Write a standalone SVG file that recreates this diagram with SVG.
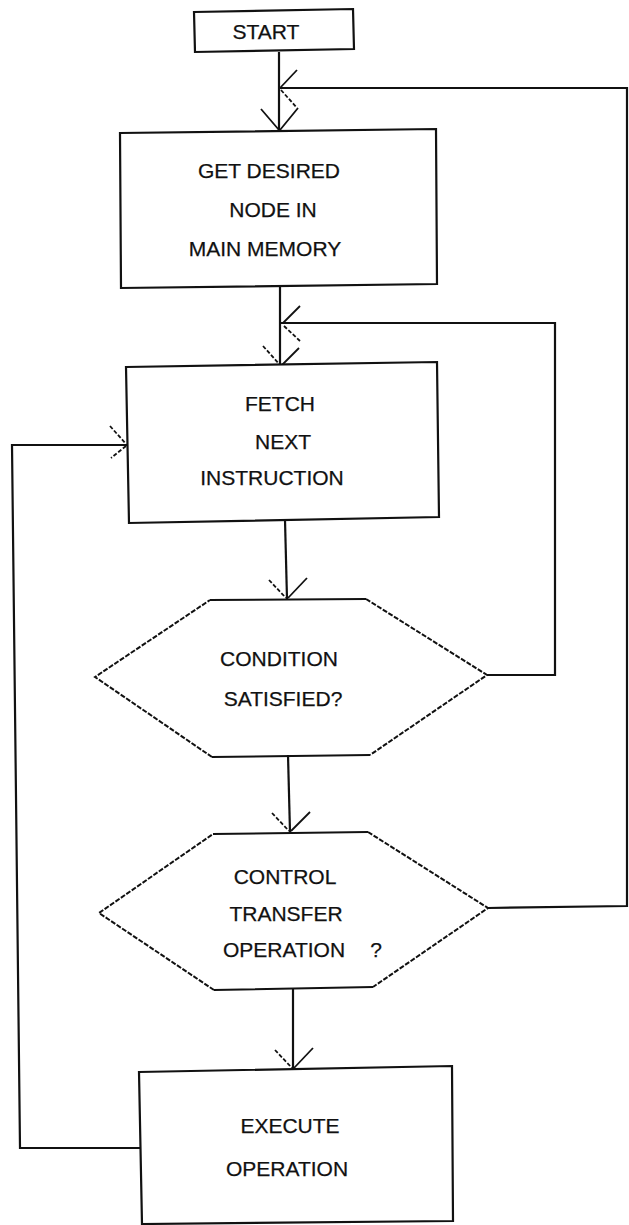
<svg xmlns="http://www.w3.org/2000/svg" width="629" height="1225" viewBox="0 0 629 1225">
<style>
  .box { fill: #fff; stroke: #111; stroke-width: 2.2; stroke-linejoin: miter; }
  .hex { fill: #fff; stroke: #111; stroke-width: 2; }
  .hexd { fill: none; stroke: #111; stroke-width: 2; stroke-dasharray: 5 1.6; }
  .ln { fill: none; stroke: #111; stroke-width: 2.2; }
  .ah { fill: none; stroke: #111; stroke-width: 1.8; }
  .ahd { fill: none; stroke: #111; stroke-width: 1.8; stroke-dasharray: 4 2; }
  text { font-family: "Liberation Sans", Arial, sans-serif; font-size: 21px; fill: #111; stroke: #111; stroke-width: 0.25; text-anchor: middle; }
</style>
<rect width="629" height="1225" fill="#fff"/>

<g id="connectors">
  <!-- START to GET -->
  <path class="ln" d="M279,52 L279,131"/>
  <path class="ah" d="M298,108 L280,130 M261,109 L279,130"/>
  <!-- feedback from control transfer to top -->
  <path class="ln" d="M488,908 L627,906 L627,88 L279,88"/>
  <path class="ah" d="M297,70 L280,88"/>
  <path class="ahd" d="M281,90 L297,108"/>
  <!-- GET to FETCH -->
  <path class="ln" d="M280,287 L280,366"/>
  <path class="ah" d="M299,348 L281,366"/>
  <path class="ahd" d="M263,346 L280,365"/>
  <!-- condition feedback -->
  <path class="ln" d="M487,675 L555,675 L555,323 L281,323"/>
  <path class="ah" d="M300,306 L283,323"/>
  <path class="ahd" d="M284,326 L300,341"/>
  <!-- FETCH to hex1 -->
  <path class="ln" d="M285,520 L287,599"/>
  <path class="ah" d="M307,578 L288,598"/>
  <path class="ahd" d="M269,580 L286,598"/>
  <!-- hex1 to hex2 -->
  <path class="ln" d="M288,755 L290,832"/>
  <path class="ah" d="M310,812 L291,831"/>
  <path class="ahd" d="M272,813 L289,831"/>
  <!-- hex2 to EXECUTE -->
  <path class="ln" d="M293,989 L293,1068"/>
  <path class="ah" d="M313,1048 L294,1068"/>
  <path class="ahd" d="M275,1050 L292,1068"/>
  <!-- EXECUTE back to FETCH -->
  <path class="ln" d="M140,1148 L20,1148 L12,445 L127,445"/>
  <path class="ahd" d="M110,426 L126,444"/>
  <path class="ahd" d="M126,446 L111,458"/>
</g>

<g id="start">
  <path class="box" d="M194,12 L353,9 L354,49 L195,52 Z"/>
  <text x="266" y="39">START</text>
</g>

<g id="get-node">
  <path class="box" d="M120,133 L436,129 L437,284 L121,288 Z"/>
  <text x="269" y="178">GET DESIRED</text>
  <text x="273" y="217">NODE IN</text>
  <text x="265" y="256">MAIN MEMORY</text>
</g>

<g id="fetch">
  <path class="box" d="M126,367 L437,362 L439,517 L129,523 Z"/>
  <text x="280" y="411">FETCH</text>
  <text x="283" y="449">NEXT</text>
  <text x="272" y="485">INSTRUCTION</text>
</g>

<g id="condition">
  <path class="hex" d="M210,600 L366,599 M370,755 L212,757" />
  <path class="hexd" d="M366,599 L487,675 L370,755 M212,757 L95,677 L210,600"/>
  <text x="279" y="666">CONDITION</text>
  <text x="283" y="706">SATISFIED?</text>
</g>

<g id="control-transfer">
  <path class="hex" d="M213,834 L368,832 M373,987 L214,990"/>
  <path class="hexd" d="M368,832 L488,908 L373,987 M214,990 L99,913 L213,834"/>
  <text x="285" y="884">CONTROL</text>
  <text x="286" y="921">TRANSFER</text>
  <text x="284" y="957">OPERATION</text>
  <text x="376" y="957">?</text>
</g>

<g id="execute">
  <path class="box" d="M139,1072 L452,1066 L453,1221 L142,1224 Z"/>
  <text x="290" y="1133">EXECUTE</text>
  <text x="287" y="1176">OPERATION</text>
</g>
</svg>
